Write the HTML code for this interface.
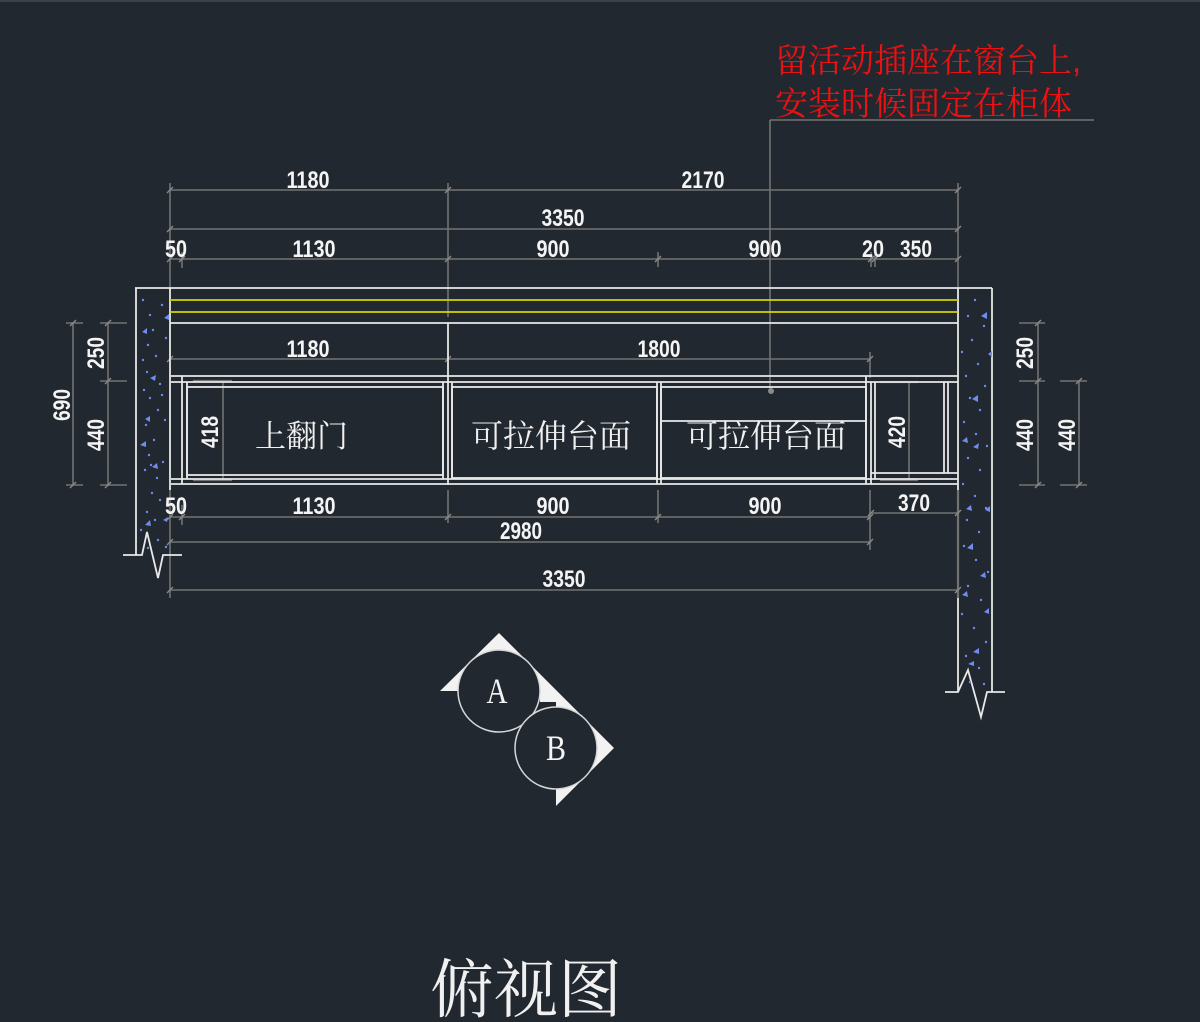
<!DOCTYPE html>
<html><head><meta charset="utf-8"><style>
html,body{margin:0;padding:0;background:#212830;}
svg{display:block;}
.d{font-family:"Liberation Sans",sans-serif;font-weight:bold;font-size:24px;fill:#f4f4f4;}
.c{font-family:"Liberation Serif","Noto Serif CJK SC",serif;fill:#f0f0f0;}
.r{font-family:"Liberation Sans","Noto Serif CJK SC",serif;fill:#ee1111;font-size:33px;}
</style></head><body>
<svg width="1200" height="1022" viewBox="0 0 1200 1022" xmlns="http://www.w3.org/2000/svg">
<rect width="1200" height="1022" fill="#212830"/>
<line x1="0" y1="1" x2="1200" y2="1" stroke="#3a414b" stroke-width="2"/>

<!-- gray dimension lines -->
<g stroke="#727272" stroke-width="1.6" fill="none">
  <line x1="170" y1="190" x2="958" y2="190"/>
  <line x1="170" y1="229" x2="958" y2="229"/>
  <line x1="170" y1="259" x2="958" y2="259"/>
  <line x1="170" y1="183" x2="170" y2="290"/>
  <line x1="448" y1="183" x2="448" y2="317"/>
  <line x1="958" y1="183" x2="958" y2="288"/>
  <line x1="182" y1="252" x2="182" y2="268"/>
  <line x1="658" y1="252" x2="658" y2="267"/>
  <line x1="871" y1="252" x2="871" y2="267"/>
  <line x1="875" y1="252" x2="875" y2="267"/>
  <line x1="770" y1="120" x2="1094" y2="120"/>
  <line x1="770" y1="120" x2="770" y2="391"/>
  <line x1="170" y1="359" x2="870" y2="359"/>
  <line x1="870" y1="352" x2="870" y2="378"/>
  <line x1="223" y1="381" x2="223" y2="480"/>
  <line x1="193" y1="381" x2="232" y2="381" stroke-width="2.2"/>
  <line x1="193" y1="480" x2="232" y2="480" stroke-width="2.2"/>
  <line x1="909" y1="382" x2="909" y2="480"/>
  <line x1="880" y1="382" x2="918" y2="382" stroke-width="2.2"/>
  <line x1="880" y1="480" x2="918" y2="480" stroke-width="2.2"/>
  <line x1="170" y1="517" x2="870" y2="517"/>
  <line x1="871" y1="513" x2="958" y2="513"/>
  <line x1="170" y1="542" x2="870" y2="542"/>
  <line x1="170" y1="590" x2="958" y2="590"/>
  <line x1="170" y1="488" x2="170" y2="598"/>
  <line x1="182" y1="505" x2="182" y2="525"/>
  <line x1="448" y1="490" x2="448" y2="523"/>
  <line x1="658" y1="490" x2="658" y2="523"/>
  <line x1="870" y1="490" x2="870" y2="550"/>
  <line x1="958" y1="490" x2="958" y2="598" stroke-width="2.2"/>
  <line x1="73" y1="323" x2="73" y2="485"/>
  <line x1="108" y1="323" x2="108" y2="485"/>
  <line x1="66" y1="323" x2="83" y2="323"/>
  <line x1="66" y1="485" x2="83" y2="485"/>
  <line x1="100" y1="323" x2="127" y2="323"/>
  <line x1="100" y1="381" x2="127" y2="381"/>
  <line x1="100" y1="485" x2="127" y2="485"/>
  <line x1="1038" y1="323" x2="1038" y2="485"/>
  <line x1="1079" y1="381" x2="1079" y2="485"/>
  <line x1="1019" y1="323" x2="1045" y2="323"/>
  <line x1="1019" y1="381" x2="1045" y2="381"/>
  <line x1="1019" y1="485" x2="1045" y2="485"/>
  <line x1="1060" y1="381" x2="1087" y2="381"/>
  <line x1="1060" y1="485" x2="1087" y2="485"/>
</g>
<g stroke="#8a8a8a" stroke-width="1.4">
  <path d="M167 193L173 187M445 193L451 187M955 193L961 187
           M167 232L173 226M955 232L961 226
           M167 262L173 256M179 262L185 256M445 262L451 256M655 262L661 256M868 262L874 256M872 262L878 256M955 262L961 256
           M167 362L173 356M445 362L451 356M867 362L873 356
           M167 520L173 514M179 520L185 514M445 520L451 514M655 520L661 514M867 520L873 514
           M868 516L874 510M955 516L961 510
           M167 545L173 539M867 545L873 539
           M167 593L173 587M955 593L961 587
           M70 326L76 320M70 488L76 482M105 326L111 320M105 384L111 378M105 488L111 482
           M1035 326L1041 320M1035 384L1041 378M1035 488L1041 482M1076 384L1082 378M1076 488L1082 482"/>
</g>
<circle cx="771" cy="391" r="3" fill="#8a8a8a"/>

<g stroke="#e8e8e8" stroke-width="1.8" fill="none">
  <line x1="135" y1="288" x2="992" y2="288"/>
  <line x1="136" y1="288" x2="136" y2="555"/>
  <line x1="170" y1="288" x2="170" y2="490"/>
  <polyline points="123,555 142,555 147,532 158,578 163,555 182,555"/>
  <line x1="958" y1="288" x2="958" y2="490"/>
  <line x1="958" y1="598" x2="958" y2="692"/>
  <line x1="992" y1="288" x2="992" y2="692"/>
  <polyline points="945,692 958,692 968,670 981,717 987,692 1005,692"/>
  <line x1="170" y1="323" x2="958" y2="323"/>
  <line x1="448" y1="323" x2="448" y2="485"/>
  <line x1="171" y1="376" x2="958" y2="376"/>
  <line x1="171" y1="382" x2="958" y2="382"/>
  <line x1="171" y1="479" x2="958" y2="479"/>
  <line x1="171" y1="484" x2="958" y2="484"/>
  <line x1="182" y1="376" x2="182" y2="484"/>
  <line x1="187" y1="382" x2="187" y2="479"/>
  <rect x="187" y="387" width="256" height="88"/>
  <line x1="443" y1="382" x2="443" y2="479"/>
  <line x1="452" y1="382" x2="452" y2="479"/>
  <rect x="452" y="387" width="205" height="91"/>
  <line x1="657" y1="382" x2="657" y2="484"/>
  <line x1="661" y1="382" x2="661" y2="484"/>
  <rect x="661" y="387" width="205" height="91"/>
  <line x1="661" y1="421" x2="866" y2="421"/>
  <line x1="866" y1="376" x2="866" y2="484"/>
  <line x1="871" y1="382" x2="871" y2="484"/>
  <line x1="875" y1="382" x2="875" y2="479"/>
  <line x1="944" y1="382" x2="944" y2="473"/>
  <line x1="948" y1="382" x2="948" y2="473"/>
  <line x1="871" y1="473" x2="958" y2="473"/>
</g>
<g stroke="#d4d400" stroke-width="1.8">
  <line x1="170" y1="300" x2="958" y2="300"/>
  <line x1="170" y1="312" x2="958" y2="312"/>
</g>

<g fill="#6f8cf0">
  <circle cx="153" cy="330" r="1.2"/><circle cx="148" cy="345" r="1.2"/><circle cx="156" cy="356" r="1.2"/>
  <circle cx="147" cy="372" r="1.2"/><circle cx="160" cy="384" r="1.2"/><circle cx="150" cy="398" r="1.2"/>
  <circle cx="158" cy="410" r="1.2"/><circle cx="146" cy="425" r="1.2"/><circle cx="154" cy="440" r="1.2"/>
  <circle cx="149" cy="455" r="1.2"/><circle cx="163" cy="462" r="1.2"/><circle cx="145" cy="470" r="1.2"/>
  <circle cx="157" cy="478" r="1.2"/><circle cx="152" cy="493" r="1.2"/><circle cx="160" cy="500" r="1.2"/>
  <circle cx="147" cy="512" r="1.2"/><circle cx="155" cy="520" r="1.2"/><circle cx="143" cy="300" r="1.2"/>
  <circle cx="162" cy="305" r="1.2"/><circle cx="150" cy="315" r="1.2"/><circle cx="166" cy="338" r="1.2"/>
  <circle cx="144" cy="390" r="1.2"/><circle cx="165" cy="420" r="1.2"/><circle cx="151" cy="465" r="1.2"/>
  <circle cx="141" cy="530" r="1.2"/><circle cx="158" cy="540" r="1.2"/><circle cx="166" cy="547" r="1.2"/>
  <circle cx="148" cy="548" r="1.2"/><circle cx="162" cy="395" r="1.2"/><circle cx="143" cy="360" r="1.2"/>
  <path d="M142 332l5 -4l0 6z M150 378l6 -3l-1 6z M145 419l5 -3l0 6z M140 445l6 -4l0 6z M152 467l5 -4l1 6z M145 525l5 -5l1 6z M163 520l5 -3l-1 5z M164 318l5 -4l0 6z"/>
  <circle cx="975" cy="300" r="1.2"/><circle cx="968" cy="316" r="1.2"/><circle cx="984" cy="326" r="1.2"/>
  <circle cx="972" cy="340" r="1.2"/><circle cx="962" cy="352" r="1.2"/><circle cx="978" cy="364" r="1.2"/>
  <circle cx="966" cy="376" r="1.2"/><circle cx="985" cy="386" r="1.2"/><circle cx="970" cy="398" r="1.2"/>
  <circle cx="980" cy="410" r="1.2"/><circle cx="964" cy="422" r="1.2"/><circle cx="976" cy="434" r="1.2"/>
  <circle cx="987" cy="446" r="1.2"/><circle cx="968" cy="458" r="1.2"/><circle cx="980" cy="470" r="1.2"/>
  <circle cx="963" cy="484" r="1.2"/><circle cx="975" cy="496" r="1.2"/><circle cx="986" cy="508" r="1.2"/>
  <circle cx="967" cy="520" r="1.2"/><circle cx="979" cy="532" r="1.2"/><circle cx="964" cy="546" r="1.2"/>
  <circle cx="976" cy="560" r="1.2"/><circle cx="988" cy="572" r="1.2"/><circle cx="968" cy="586" r="1.2"/>
  <circle cx="981" cy="600" r="1.2"/><circle cx="962" cy="614" r="1.2"/><circle cx="974" cy="628" r="1.2"/>
  <circle cx="986" cy="642" r="1.2"/><circle cx="966" cy="656" r="1.2"/><circle cx="979" cy="668" r="1.2"/>
  <circle cx="970" cy="682" r="1.2"/><circle cx="984" cy="684" r="1.2"/>
  <path d="M981 316l6 -4l0 7z M988 354l4 -3l0 6z M972 399l6 -4l0 7z M962 441l5 -4l1 6z M973 447l6 -4l-1 6z
           M966 509l5 -4l1 6z M985 510l5 -4l0 6z M967 548l6 -5l0 7z M980 576l5 -4l1 6z M962 595l5 -4l1 6z
           M984 612l5 -4l0 6z M973 652l6 -4l0 6z M968 664l6 -3l0 5z"/>
</g>

<g class="d" text-anchor="middle">
  <text x="308" y="188" textLength="43" lengthAdjust="spacingAndGlyphs">1180</text>
  <text x="703" y="188" textLength="43" lengthAdjust="spacingAndGlyphs">2170</text>
  <text x="563" y="226" textLength="43" lengthAdjust="spacingAndGlyphs">3350</text>
  <text x="176" y="257" textLength="22" lengthAdjust="spacingAndGlyphs">50</text>
  <text x="314" y="257" textLength="43" lengthAdjust="spacingAndGlyphs">1130</text>
  <text x="553" y="257" textLength="33" lengthAdjust="spacingAndGlyphs">900</text>
  <text x="765" y="257" textLength="33" lengthAdjust="spacingAndGlyphs">900</text>
  <text x="873" y="257" textLength="22" lengthAdjust="spacingAndGlyphs">20</text>
  <text x="916" y="257" textLength="32" lengthAdjust="spacingAndGlyphs">350</text>
  <text x="308" y="357" textLength="43" lengthAdjust="spacingAndGlyphs">1180</text>
  <text x="659" y="357" textLength="43" lengthAdjust="spacingAndGlyphs">1800</text>
  <text x="176" y="514" textLength="22" lengthAdjust="spacingAndGlyphs">50</text>
  <text x="314" y="514" textLength="43" lengthAdjust="spacingAndGlyphs">1130</text>
  <text x="553" y="514" textLength="33" lengthAdjust="spacingAndGlyphs">900</text>
  <text x="765" y="514" textLength="33" lengthAdjust="spacingAndGlyphs">900</text>
  <text x="914" y="511" textLength="32" lengthAdjust="spacingAndGlyphs">370</text>
  <text x="521" y="539" textLength="42" lengthAdjust="spacingAndGlyphs">2980</text>
  <text x="564" y="587" textLength="43" lengthAdjust="spacingAndGlyphs">3350</text>
  <text transform="translate(104,353) rotate(-90)" textLength="32" lengthAdjust="spacingAndGlyphs">250</text>
  <text transform="translate(104,435) rotate(-90)" textLength="32" lengthAdjust="spacingAndGlyphs">440</text>
  <text transform="translate(70,405) rotate(-90)" textLength="32" lengthAdjust="spacingAndGlyphs">690</text>
  <text transform="translate(218,432) rotate(-90)" textLength="32" lengthAdjust="spacingAndGlyphs">418</text>
  <text transform="translate(905,432) rotate(-90)" textLength="32" lengthAdjust="spacingAndGlyphs">420</text>
  <text transform="translate(1033,353) rotate(-90)" textLength="32" lengthAdjust="spacingAndGlyphs">250</text>
  <text transform="translate(1033,435) rotate(-90)" textLength="32" lengthAdjust="spacingAndGlyphs">440</text>
  <text transform="translate(1075,435) rotate(-90)" textLength="32" lengthAdjust="spacingAndGlyphs">440</text>
</g>

<g class="c" font-size="31">
  <text x="255" y="447">上翻门</text>
</g>
<g class="c" font-size="32">
  <text x="471" y="447">可拉伸台面</text>
  <text x="686" y="447">可拉伸台面</text>
</g>
<text class="r" x="775" y="72">留活动插座在窗台上,</text>
<text class="r" x="775" y="115">安装时候固定在柜体</text>
<text class="c" x="430" y="1012" font-size="64">俯视图</text>

<polygon points="440,691 499,633 614,748 556,806 556,702 540,702 540,691" fill="#f2f2f2"/>
<circle cx="499" cy="691" r="41" fill="#212830" stroke="#d8d8d8" stroke-width="1.5"/>
<circle cx="556" cy="748" r="41" fill="#212830" stroke="#d8d8d8" stroke-width="1.5"/>
<text x="497" y="703" font-family="Liberation Serif,serif" font-size="36" fill="#f4f4f4" text-anchor="middle" textLength="21" lengthAdjust="spacingAndGlyphs">A</text>
<text x="556" y="760" font-family="Liberation Serif,serif" font-size="36" fill="#f4f4f4" text-anchor="middle" textLength="20" lengthAdjust="spacingAndGlyphs">B</text>
</svg>
</body></html>
